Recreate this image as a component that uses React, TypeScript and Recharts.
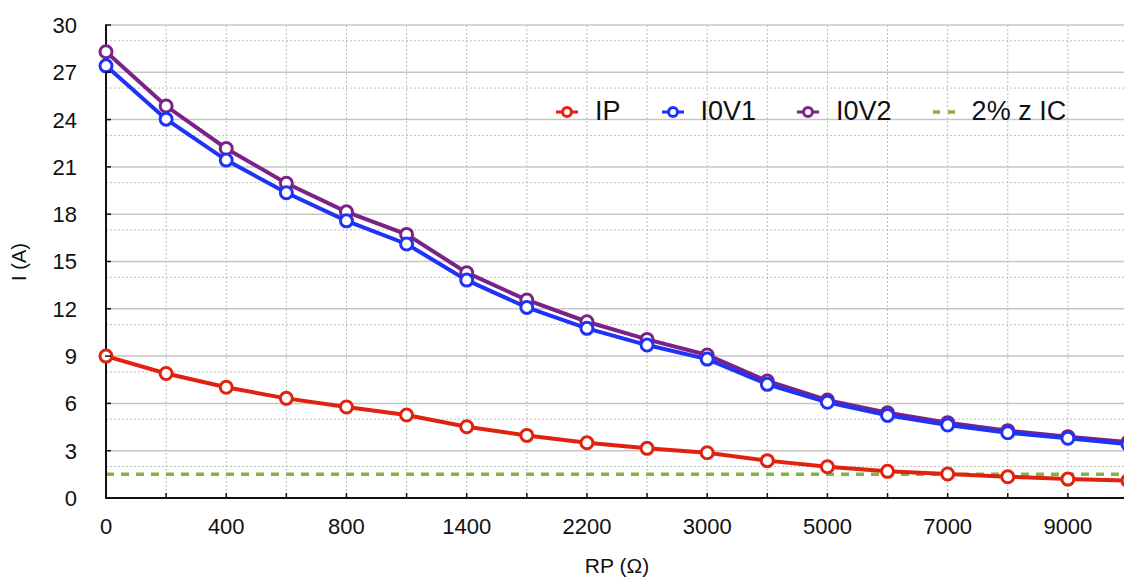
import React from "react";
import {
  LineChart,
  Line,
  XAxis,
  YAxis,
  CartesianGrid,
  Legend,
  Label
} from "recharts";

// RP values (ohm), one per measured point
const rpValues = ["0", "200", "400", "600", "800", "1100", "1400", "1800", "2200", "2600", "3000", "4000", "5000", "6000", "7000", "8000", "9000", "10000"];
const ipValues = [9.0, 7.9, 7.02, 6.32, 5.77, 5.26, 4.52, 3.97, 3.5, 3.15, 2.87, 2.37, 1.98, 1.69, 1.52, 1.35, 1.2, 1.1];
const i0v1Values = [27.41, 24.03, 21.43, 19.36, 17.58, 16.11, 13.82, 12.09, 10.76, 9.7, 8.81, 7.21, 6.07, 5.24, 4.63, 4.14, 3.79, 3.42];
const i0v2Values = [28.3, 24.86, 22.17, 19.96, 18.15, 16.72, 14.29, 12.56, 11.18, 10.06, 9.07, 7.42, 6.21, 5.41, 4.78, 4.27, 3.89, 3.55];
const icValues = [1.5, 1.5, 1.5, 1.5, 1.5, 1.5, 1.5, 1.5, 1.5, 1.5, 1.5, 1.5, 1.5, 1.5, 1.5, 1.5, 1.5, 1.5];

const yTicks = [0, 3, 6, 9, 12, 15, 18, 21, 24, 27, 30];
const yMinor = [1, 2, 4, 5, 7, 8, 10, 11, 13, 14, 16, 17, 19, 20, 22, 23, 25, 26, 28, 29];

const RED = "#e0230f";
const BLUE = "#1f33f7";
const PURPLE = "#7b2288";
const GREEN = "#86b244";
const FONT = "'Liberation Sans', Arial, sans-serif";

// the chart runs off the right edge of the frame, so let it use the full page
if (typeof document !== "undefined") document.body.style.margin = "0";

const data = rpValues.map((rp, i) => ({
  rp,
  IP: ipValues[i],
  I0V1: i0v1Values[i],
  I0V2: i0v2Values[i],
  IC: icValues[i]
}));

const legendItems = [
  { name: "IP", color: RED, dashed: false },
  { name: "I0V1", color: BLUE, dashed: false },
  { name: "I0V2", color: PURPLE, dashed: false },
  { name: "2% z IC", color: GREEN, dashed: true }
];

function XTick(props: any) {
  const { x, y, index, payload } = props;
  const axisY = y - 20;
  return (
    <g>
      <line x1={x} x2={x} y1={axisY + 1} y2={axisY - 5} stroke="#111" strokeWidth={1.5} />
      {index % 2 === 0 && (
        <text x={x} y={y} dy="0.72em" textAnchor="middle" fontSize={22} fontFamily={FONT} fill="#111">
          {payload.value}
        </text>
      )}
    </g>
  );
}

function YTick(props: any) {
  const { x, y, payload } = props;
  const axisX = x + 29;
  return (
    <g>
      <line x1={axisX - 1} x2={axisX + 5} y1={y} y2={y} stroke="#111" strokeWidth={1.5} />
      <text x={x} y={y} dy="0.36em" textAnchor="end" fontSize={22} fontFamily={FONT} fill="#111">
        {payload.value}
      </text>
    </g>
  );
}

function renderLegend() {
  return (
    <div style={{ display: "flex", alignItems: "center", fontFamily: FONT, fontSize: 27, color: "#111", whiteSpace: "nowrap" }}>
      {legendItems.map((it) => (
        <div key={it.name} style={{ display: "flex", alignItems: "center", marginRight: 41 }}>
          <svg width={22} height={16} style={{ marginRight: 17 }}>
            {it.dashed ? (
              <line x1={0} x2={22} y1={8} y2={8} stroke={it.color} strokeWidth={3.5} strokeDasharray="7 8" />
            ) : (
              <g>
                <line x1={0} x2={22} y1={8} y2={8} stroke={it.color} strokeWidth={3} />
                <circle cx={11} cy={8} r={4.5} fill="#fff" stroke={it.color} strokeWidth={3} />
              </g>
            )}
          </svg>
          <span>{it.name}</span>
        </div>
      ))}
    </div>
  );
}

export default function App(): JSX.Element {
  const dot = (color: string) => ({ r: 6, fill: "#fff", stroke: color, strokeWidth: 3 });
  return (
    <div style={{ width: 1124, height: 578, overflow: "hidden", background: "#fff" }}>
      <LineChart
        width={1132}
        height={578}
        data={data}
        margin={{ top: 25, right: 4, left: 8, bottom: 0 }}
      >
        <CartesianGrid stroke="#bdbdbd" strokeDasharray="2 2" horizontalValues={yMinor} vertical={true} />
        <CartesianGrid stroke="#c6c6c6" strokeWidth={1.5} horizontalValues={yTicks} vertical={false} />
        <XAxis
          dataKey="rp"
          interval={0}
          height={80}
          tickSize={0}
          tickMargin={20}
          tick={<XTick />}
          axisLine={{ stroke: "#111", strokeWidth: 2 }}
          tickLine={false}
        >
          <Label
            content={() => (
              <text x={617} y={573} textAnchor="middle" fontSize={21} fontFamily={FONT} fill="#111">
                RP (Ω)
              </text>
            )}
          />
        </XAxis>
        <YAxis
          domain={[0, 30]}
          ticks={yTicks}
          width={98}
          tickSize={0}
          tickMargin={29}
          tick={<YTick />}
          axisLine={{ stroke: "#111", strokeWidth: 2 }}
          tickLine={false}
          allowDataOverflow
        >
          <Label
            content={() => (
              <text x={19} y={262} transform="rotate(-90 19 262)" textAnchor="middle" dominantBaseline="central" fontSize={20} fontFamily={FONT} fill="#111">
                I (A)
              </text>
            )}
          />
        </YAxis>
        <Legend
          content={renderLegend}
          layout="horizontal"
          verticalAlign="middle"
          align="center"
          wrapperStyle={{ top: 96, left: 556, width: "auto" }}
        />
        <Line type="linear" dataKey="IC" stroke={GREEN} strokeWidth={3.5} strokeDasharray="8 7" dot={false} isAnimationActive={false} />
        <Line type="linear" dataKey="I0V2" stroke={PURPLE} strokeWidth={4} dot={dot(PURPLE)} isAnimationActive={false} />
        <Line type="linear" dataKey="I0V1" stroke={BLUE} strokeWidth={4} dot={dot(BLUE)} isAnimationActive={false} />
        <Line type="linear" dataKey="IP" stroke={RED} strokeWidth={4} dot={dot(RED)} isAnimationActive={false} />
      </LineChart>
    </div>
  );
}
